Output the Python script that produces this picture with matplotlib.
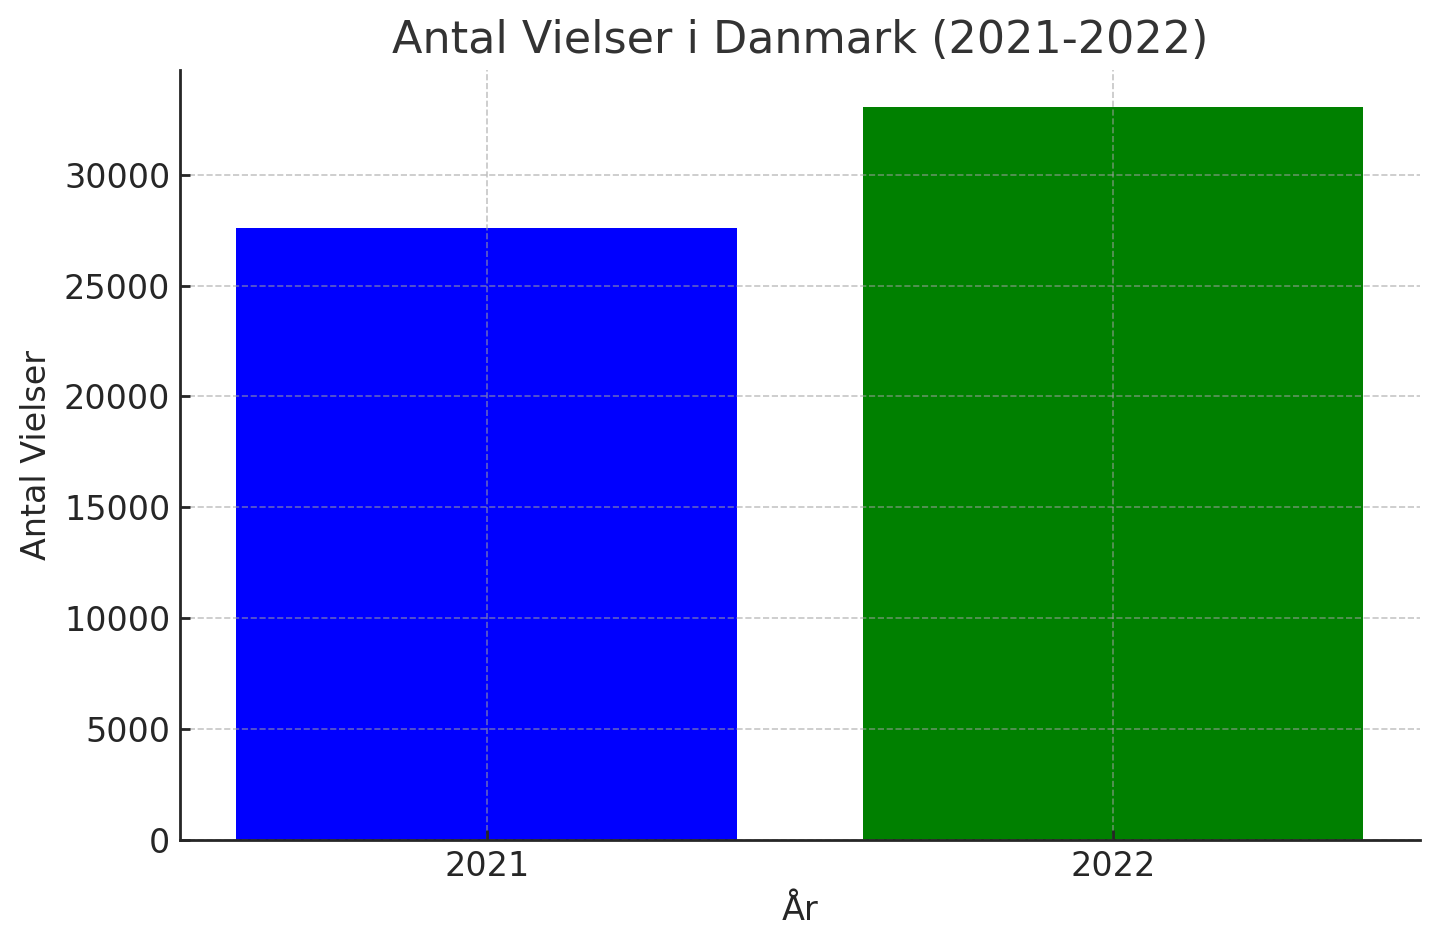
import matplotlib
matplotlib.use("Agg")
import matplotlib.pyplot as plt

years = ["2021", "2022"]
weddings = [27606, 33065]
colors = ["blue", "green"]

plt.rcParams['font.family'] = ['DejaVu Sans']
fig = plt.figure(figsize=(7.2, 4.735), dpi=200)
ax = fig.add_axes([0.125, 0.113, 0.861, 0.813])

ax.bar(years, weddings, color=colors, width=0.8)
ax.set_axisbelow(False)
ax.grid(True, linestyle='--', color='#a0a0a0', alpha=0.6, linewidth=0.6)

ax.set_title("Antal Vielser i Danmark (2021-2022)", fontsize=16, color='#333333')
ax.set_xlabel("År", fontsize=12, color='#262626')
ax.set_ylabel("Antal Vielser", fontsize=12, color='#262626')

for s in ['top', 'right']:
    ax.spines[s].set_visible(False)
for s in ['left', 'bottom']:
    ax.spines[s].set_color('#262626')
    ax.spines[s].set_linewidth(1.0)
    ax.spines[s].set_zorder(4)

ax.tick_params(axis='both', direction='in', length=3.5, width=1.0, labelsize=12,
               colors='#262626')

fig.savefig("out.png", dpi=200)
